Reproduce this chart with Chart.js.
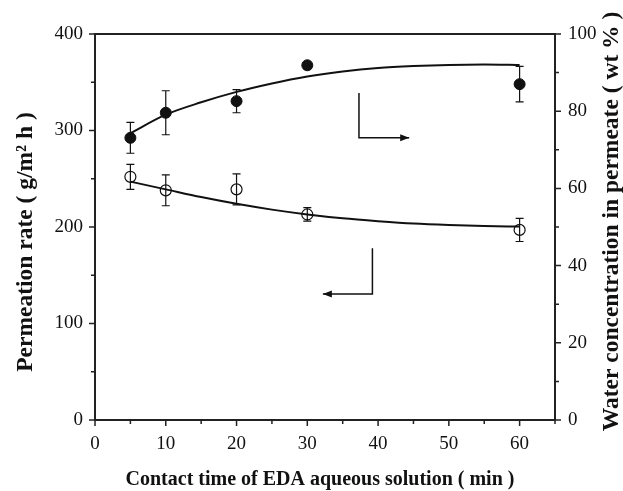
<!DOCTYPE html>
<html><head><meta charset="utf-8">
<script src="https://cdn.jsdelivr.net/npm/chart.js@4"></script>
<style>html,body{margin:0;padding:0;background:#fff}#wrap{width:623px;height:491px}</style>
</head><body><div id="wrap"><canvas id="c"></canvas></div>
<script>
// ---- data ----
const timeMin = [5, 10, 20, 30, 60];
const permRate = [252, 238, 239, 213, 197];          // g/m2 h (open circles, left axis)
const permRateErr = [13, 16, 16, 7, 12];
const waterConc = [73.1, 79.6, 82.6, 91.9, 87.0];    // wt % (filled circles, right axis)
const waterConcErr = [4.0, 5.7, 3.0, 0, 4.6];
const fitTime = [5, 10, 15, 20, 25, 30, 35, 40, 45, 50, 55, 60];
const fitPerm = [247, 239, 231, 224, 218, 213, 209, 206, 203.5, 202, 201, 200.5];
const fitWater = [74.3, 79.1, 82.3, 85.0, 87.2, 89.0, 90.3, 91.2, 91.7, 92.0, 92.1, 92.0];
const xTickLabels = [0, 10, 20, 30, 40, 50, 60];
const yLeftTickLabels = [0, 100, 200, 300, 400];
const yRightTickLabels = [0, 20, 40, 60, 80, 100];
const xTitle = 'Contact time of EDA aqueous solution ( min )';
const yLeftTitle = 'Permeation rate ( g/m² h )';
const yRightTitle = 'Water concentration in permeate ( wt % )';
// arrow annotations (data coordinates): [x, y] path, last point gets arrowhead
const arrowRight = [[37.3, 84.7], [37.3, 73.1], [44.4, 73.1]];   // on right axis
const arrowLeft = [[39.2, 178], [39.2, 130.6], [32.2, 130.6]];   // on left axis

const FONT = "'Liberation Serif', 'Times New Roman', serif";
const INK = '#111';

const toXY = (xs, ys) => xs.map((x, i) => ({x, y: ys[i]}));

const decor = {
  id: 'decor',
  afterDatasetsDraw(chart) {
    const ctx = chart.ctx;
    const sx = chart.scales.x, yl = chart.scales.y, yr = chart.scales.y2;
    ctx.save();
    ctx.strokeStyle = INK;
    ctx.lineWidth = 1.2;
    const err = (ys, es, scale) => {
      timeMin.forEach((t, i) => {
        if (!es[i]) return;
        const px = sx.getPixelForValue(t);
        const y1 = scale.getPixelForValue(ys[i] + es[i]);
        const y2 = scale.getPixelForValue(ys[i] - es[i]);
        ctx.beginPath();
        ctx.moveTo(px, y1); ctx.lineTo(px, y2);
        ctx.moveTo(px - 4, y1); ctx.lineTo(px + 4, y1);
        ctx.moveTo(px - 4, y2); ctx.lineTo(px + 4, y2);
        ctx.stroke();
      });
    };
    err(permRate, permRateErr, yl);
    err(waterConc, waterConcErr, yr);
    const arrow = (path, scale) => {
      const pts = path.map(p => [sx.getPixelForValue(p[0]), scale.getPixelForValue(p[1])]);
      ctx.lineWidth = 1.5;
      ctx.beginPath();
      pts.forEach((p, i) => i ? ctx.lineTo(p[0], p[1]) : ctx.moveTo(p[0], p[1]));
      ctx.stroke();
      const a = pts[pts.length - 1], b = pts[pts.length - 2];
      const ang = Math.atan2(a[1] - b[1], a[0] - b[0]);
      ctx.fillStyle = INK;
      ctx.beginPath();
      ctx.moveTo(a[0], a[1]);
      ctx.lineTo(a[0] - 9 * Math.cos(ang) + 3.5 * Math.sin(ang), a[1] - 9 * Math.sin(ang) - 3.5 * Math.cos(ang));
      ctx.lineTo(a[0] - 9 * Math.cos(ang) - 3.5 * Math.sin(ang), a[1] - 9 * Math.sin(ang) + 3.5 * Math.cos(ang));
      ctx.closePath();
      ctx.fill();
    };
    arrow(arrowRight, yr);
    arrow(arrowLeft, yl);
    ctx.restore();
  },
  afterDraw(chart) {
    const ctx = chart.ctx;
    const {left, right, top, bottom} = chart.chartArea;
    const sx = chart.scales.x, yl = chart.scales.y, yr = chart.scales.y2;
    ctx.save();
    ctx.strokeStyle = '#222';
    ctx.lineWidth = 2;
    ctx.strokeRect(left, top, right - left, bottom - top);
    ctx.lineWidth = 1.5;
    ctx.beginPath();
    for (let v = 0; v <= 65; v += 5) {
      const p = sx.getPixelForValue(v);
      const len = v % 10 === 0 ? 6 : 4;
      ctx.moveTo(p, bottom); ctx.lineTo(p, bottom + len);
    }
    for (let v = 0; v <= 400; v += 50) {
      const p = yl.getPixelForValue(v);
      const len = v % 100 === 0 ? 6 : 4;
      ctx.moveTo(left, p); ctx.lineTo(left - len, p);
    }
    for (let v = 0; v <= 100; v += 10) {
      const p = yr.getPixelForValue(v);
      const len = v % 20 === 0 ? 6 : 4;
      ctx.moveTo(right, p); ctx.lineTo(right + len, p);
    }
    ctx.stroke();
    // axis titles
    ctx.fillStyle = INK;
    ctx.textAlign = 'center';
    ctx.font = 'bold 20px ' + FONT;
    ctx.textBaseline = 'alphabetic';
    ctx.fillText(xTitle, 320, 485);
    ctx.font = 'bold 23.5px ' + FONT;
    ctx.textBaseline = 'middle';
    ctx.save();
    ctx.translate(26, 242);
    ctx.rotate(-Math.PI / 2);
    ctx.fillText(yLeftTitle, 0, 0);
    ctx.restore();
    ctx.translate(612, 221.5);
    ctx.rotate(-Math.PI / 2);
    ctx.fillText(yRightTitle, 0, 0);
    ctx.restore();
  }
};

new Chart(document.getElementById('c'), {
  type: 'scatter',
  data: {
    datasets: [
      {type: 'line', data: toXY(fitTime, fitWater), yAxisID: 'y2', borderColor: INK, borderWidth: 2,
       pointRadius: 0, cubicInterpolationMode: 'monotone', fill: false},
      {type: 'line', data: toXY(fitTime, fitPerm), yAxisID: 'y', borderColor: INK, borderWidth: 2,
       pointRadius: 0, cubicInterpolationMode: 'monotone', fill: false},
      {data: toXY(timeMin, waterConc), yAxisID: 'y2', pointRadius: 5.5, pointBackgroundColor: INK,
       pointBorderColor: INK, pointBorderWidth: 1, showLine: false},
      {data: toXY(timeMin, permRate), yAxisID: 'y', pointRadius: 5.5, pointBackgroundColor: '#fff',
       pointBorderColor: INK, pointBorderWidth: 1.2, showLine: false}
    ]
  },
  options: {
    responsive: true, maintainAspectRatio: false, animation: false,
    layout: {padding: {top: 34, left: 0, right: 0, bottom: 0}},
    plugins: {legend: {display: false}, tooltip: {enabled: false}},
    scales: {
      x: {
        type: 'linear', min: 0, max: 65,
        afterBuildTicks: s => { s.ticks = xTickLabels.map(v => ({value: v})); },
        afterFit: s => { s.height = 71; },
        grid: {display: false}, border: {display: false},
        ticks: {color: INK, padding: 5, font: {family: FONT, size: 19}, maxRotation: 0}
      },
      y: {
        type: 'linear', position: 'left', min: 0, max: 400,
        afterBuildTicks: s => { s.ticks = yLeftTickLabels.map(v => ({value: v})); },
        afterFit: s => { s.width = 95; },
        grid: {display: false}, border: {display: false},
        ticks: {color: INK, padding: 4, font: {family: FONT, size: 19}}
      },
      y2: {
        type: 'linear', position: 'right', min: 0, max: 100,
        afterBuildTicks: s => { s.ticks = yRightTickLabels.map(v => ({value: v})); },
        afterFit: s => { s.width = 68; },
        grid: {display: false}, border: {display: false},
        ticks: {color: INK, padding: 5, font: {family: FONT, size: 19}}
      }
    }
  },
  plugins: [decor]
});
</script></body></html>
